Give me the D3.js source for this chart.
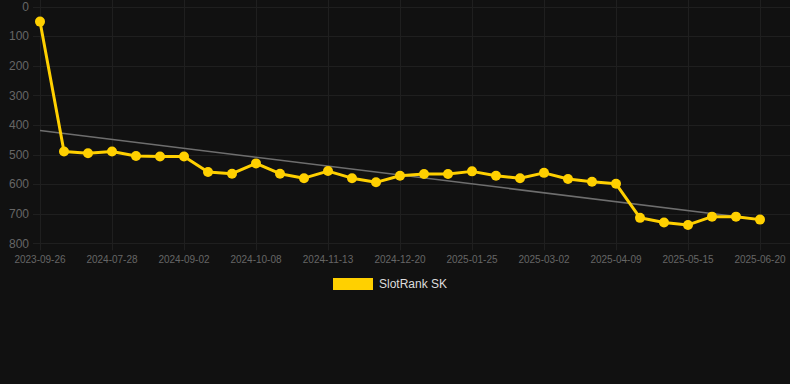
<!DOCTYPE html>
<html>
<head>
<meta charset="utf-8">
<script src="https://cdn.jsdelivr.net/npm/d3@7"></script>
<style>
  html, body { margin: 0; padding: 0; background: #111111; }
  svg { display: block; font-family: "Liberation Sans", Arial, Helvetica, sans-serif; }
</style>
</head>
<body>
<svg id="chart" width="790" height="384"></svg>
<script>
const dates = [
  "2023-09-26", "", "", "2024-07-28", "", "", "2024-09-02", "", "", "2024-10-08", "", "",
  "2024-11-13", "", "", "2024-12-20", "", "", "2025-01-25", "", "", "2025-03-02", "", "",
  "2025-04-09", "", "", "2025-05-15", "", "", "2025-06-20"
];
const ranks = [
  51, 490, 496, 490, 505, 507, 507, 559, 565, 530, 565, 580, 556, 580, 594, 572,
  566, 566, 557, 572, 580, 562, 583, 592, 599, 714, 730, 738, 710, 710, 720
];
const yTicks = [0, 100, 200, 300, 400, 500, 600, 700, 800];
const seriesName = "SlotRank SK";

const svg = d3.select("#chart");
const plot = {left: 40, right: 760, top: 6.5, bottom: 243.3};

const x = d3.scaleLinear().domain([0, ranks.length - 1]).range([plot.left, plot.right]);
const y = d3.scaleLinear().domain([0, 800]).range([plot.top, plot.bottom]);

// grid
const grid = svg.append("g").attr("stroke", "#1f1f1f").attr("stroke-width", 1);
grid.selectAll("line.h").data(yTicks).enter().append("line")
  .attr("x1", 33).attr("x2", 790)
  .attr("y1", d => Math.round(y(d)) + 0.5).attr("y2", d => Math.round(y(d)) + 0.5);
const xTickIdx = dates.map((d, i) => i).filter(i => dates[i] !== "");
grid.selectAll("line.v").data(xTickIdx).enter().append("line")
  .attr("x1", d => Math.round(x(d)) + 0.5).attr("x2", d => Math.round(x(d)) + 0.5)
  .attr("y1", 0).attr("y2", plot.bottom + 7);

// y labels
svg.append("g").selectAll("text").data(yTicks).enter().append("text")
  .attr("x", 29).attr("y", d => y(d))
  .attr("dy", "0.35em")
  .attr("text-anchor", "end")
  .attr("fill", "#666")
  .attr("font-size", 12)
  .text(d => d);

// x labels
svg.append("g").selectAll("text").data(xTickIdx).enter().append("text")
  .attr("x", d => x(d)).attr("y", 259.5)
  .attr("dy", "0.35em")
  .attr("text-anchor", "middle")
  .attr("fill", "#666")
  .attr("font-size", 10)
  .text(d => dates[d]);

// trend line (least squares)
const n = ranks.length;
const mx = d3.mean(ranks, (d, i) => i), my = d3.mean(ranks);
const slope = d3.sum(ranks, (d, i) => (i - mx) * (d - my)) / d3.sum(ranks, (d, i) => (i - mx) * (i - mx));
const icpt = my - slope * mx;
svg.append("line")
  .attr("x1", x(0)).attr("y1", y(icpt))
  .attr("x2", x(n - 1)).attr("y2", y(icpt + slope * (n - 1)))
  .attr("stroke", "#6e6e6e").attr("stroke-width", 1.6);

// series
const line = d3.line().x((d, i) => x(i)).y(d => y(d));
svg.append("path").datum(ranks)
  .attr("d", line)
  .attr("fill", "none")
  .attr("stroke", "#FFD000")
  .attr("stroke-width", 3)
  .attr("stroke-linejoin", "round");
svg.append("g").selectAll("circle").data(ranks).enter().append("circle")
  .attr("cx", (d, i) => x(i)).attr("cy", d => y(d))
  .attr("r", 5)
  .attr("fill", "#FFD000");

// legend
const legend = svg.append("g");
legend.append("rect").attr("x", 333).attr("y", 278).attr("width", 40).attr("height", 12).attr("fill", "#FFD000");
legend.append("text").attr("x", 379).attr("y", 284).attr("dy", "0.35em")
  .attr("fill", "#dddddd").attr("font-size", 12).text(seriesName);
</script>
</body>
</html>
